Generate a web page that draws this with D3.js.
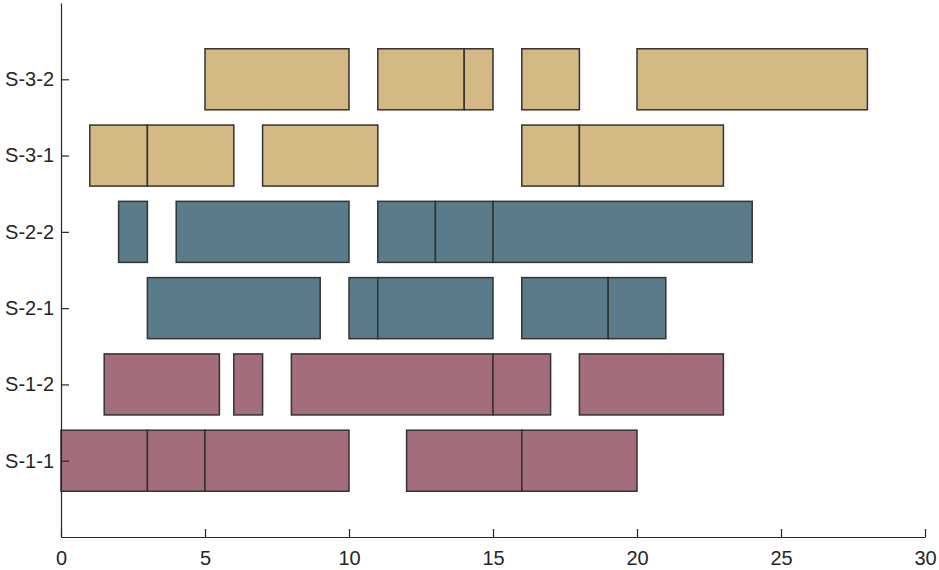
<!DOCTYPE html>
<html>
<head>
<meta charset="utf-8">
<script src="https://cdn.jsdelivr.net/npm/d3@7"></script>
<style>
  body { margin: 0; background: #fff; }
  svg text { font-family: "Liberation Sans", Arial, sans-serif; }
</style>
</head>
<body>
<div id="chart"></div>
<script>
// rows, bottom to top
var rows = ["S-1-1", "S-1-2", "S-2-1", "S-2-2", "S-3-1", "S-3-2"];
var groups = ["S-1", "S-1", "S-2", "S-2", "S-3", "S-3"];
// segment start / end per row
var starts = [
    [0, 3, 5, 12, 16],
    [1.5, 6, 8, 15, 18],
    [3, 10, 11, 16, 19],
    [2, 4, 11, 13, 15],
    [1, 3, 7, 16, 18],
    [5, 11, 14, 16, 20]
];
var ends = [
    [3, 5, 10, 16, 20],
    [5.5, 7, 15, 17, 23],
    [9, 11, 15, 19, 21],
    [3, 10, 13, 15, 24],
    [3, 6, 11, 18, 23],
    [10, 14, 15, 18, 28]
];
var xTicks = [0, 5, 10, 15, 20, 25, 30];
var groupColors = {"S-1": "#a46d7c", "S-2": "#5a7b8a", "S-3": "#d4b984"};

var width = 939, height = 570;
var margin = {left: 61, right: 14, top: 3, bottom: 33};

var svg = d3.select("#chart").append("svg")
    .attr("width", width)
    .attr("height", height);

var x = d3.scaleLinear().domain([0, 30])
    .range([margin.left, width - margin.right]);
var y = d3.scaleLinear().domain([0, 7])
    .range([height - margin.bottom, margin.top]);
var barH = y(0) - y(0.8);

// flatten segments
var segs = [];
rows.forEach(function(r, i) {
    starts[i].forEach(function(s, j) {
        segs.push({row: i + 1, group: groups[i], start: s, end: ends[i][j]});
    });
});

svg.append("g").selectAll("rect")
    .data(segs)
    .enter().append("rect")
    .attr("x", function(d) { return x(d.start); })
    .attr("y", function(d) { return y(d.row) - barH / 2; })
    .attr("width", function(d) { return x(d.end) - x(d.start); })
    .attr("height", barH)
    .attr("fill", function(d) { return groupColors[d.group]; })
    .attr("stroke", "#333")
    .attr("stroke-width", 1.5);

// x axis, ticks pointing inward
var xAxis = svg.append("g")
    .attr("transform", "translate(0," + y(0) + ")")
    .call(d3.axisBottom(x).tickValues(xTicks).tickSizeInner(-8).tickSizeOuter(0).tickPadding(14));
xAxis.selectAll("text").attr("font-size", 20).attr("fill", "#262626")
    .attr("font-family", "Liberation Sans, Arial, sans-serif");

// y axis
var yAxis = svg.append("g")
    .attr("transform", "translate(" + x(0) + ",0)")
    .call(d3.axisLeft(y).tickValues([1, 2, 3, 4, 5, 6])
        .tickFormat(function(d) { return rows[d - 1]; })
        .tickSizeInner(-8).tickSizeOuter(0).tickPadding(7));
yAxis.selectAll("text").attr("font-size", 20).attr("fill", "#262626")
    .attr("font-family", "Liberation Sans, Arial, sans-serif");

svg.selectAll(".domain, .tick line").attr("stroke", "#262626").attr("stroke-width", 1.2);
</script>
</body>
</html>
